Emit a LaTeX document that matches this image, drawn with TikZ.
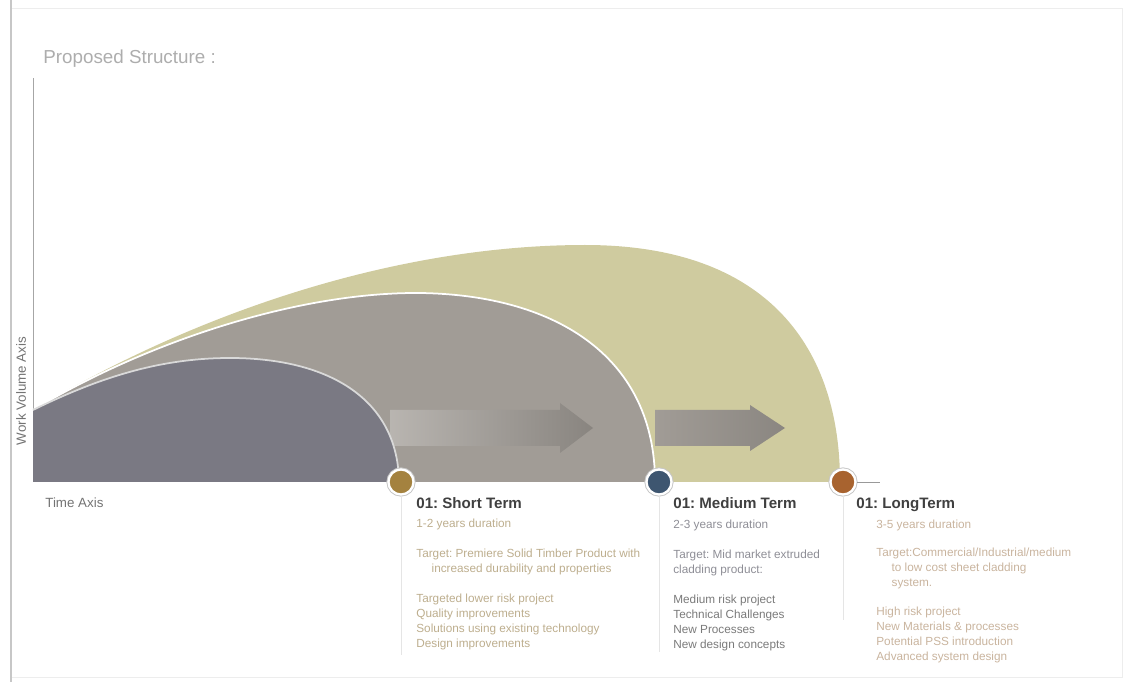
\documentclass[tikz,border=0pt]{standalone}
\usepackage{fontspec}
\setmainfont{Liberation Sans}
\frenchspacing
\definecolor{darkshape}{HTML}{7A7983}
\definecolor{midshape}{HTML}{A19C96}
\definecolor{oliveshape}{HTML}{CFCB9F}
\definecolor{goldspot}{HTML}{A4823F}
\definecolor{bluespot}{HTML}{3E5670}
\definecolor{rustspot}{HTML}{A8632F}
\definecolor{shorttxt}{HTML}{BDAE8E}
\definecolor{midtxt}{HTML}{8E8E96}
\definecolor{longtxt}{HTML}{C9B49E}
\begin{document}
\begin{tikzpicture}[x=0.02cm,y=-0.02cm,
  spot/.style={circle,draw=white,line width=1.3pt,minimum size=0.5cm,inner sep=0pt,
    preaction={draw=black!22,line width=2.4pt}},
  termtitle/.style={anchor=base west,inner sep=0pt,font=\fontsize{8.6}{10}\selectfont\bfseries,text=black!75},
  termtext/.style={anchor=north west,align=left,inner sep=0pt,font=\fontsize{6.7}{8.5}\selectfont},
  axistext/.style={inner sep=0pt,text=black!55,font=\fontsize{7.6}{9}\selectfont},
  guide/.style={draw=black!10,line width=0.4pt}]
\useasboundingbox (0,0) rectangle (1127,682);
\draw[black!7] (11,8) rectangle (1122,677);
\draw[black!22,line width=1.4pt] (11,0) -- (11,682);
\draw[black!35,line width=0.5pt] (33,78) -- (33,420);

\node[anchor=base west,inner sep=0pt,text=black!32,font=\fontsize{10.7}{12}\selectfont] (title) at (43,64) {Proposed Structure :};
\node[axistext,rotate=90] (yaxis) at (21,391) {Work Volume Axis};
\node[axistext,anchor=base west] (xaxis) at (45,507) {Time Axis};

\fill[oliveshape] (33,482) -- (33,410) .. controls (200,310) and (400,245) .. (585,245)
  .. controls (770,245) and (840,350) .. (840,482) -- cycle;
\shade[left color=midshape,right color=black!14!midshape]
  (655,410) -- (750,410) -- (750,405) -- (785,428) -- (750,451) -- (750,446) -- (655,446) -- cycle;
\fill[midshape] (33,482) -- (33,410) .. controls (150,340) and (300,292) .. (420,293)
  .. controls (560,295) and (655,360) .. (655,482) -- cycle;
\draw[white,line width=1pt] (33,410) .. controls (150,340) and (300,292) .. (420,293)
  .. controls (560,295) and (655,360) .. (655,482);
\shade[left color=white!25!midshape,right color=black!15!midshape]
  (390,410) -- (560,410) -- (560,403) -- (593,428) -- (560,453) -- (560,446) -- (390,446) -- cycle;
\fill[darkshape] (33,482) -- (33,410) .. controls (110,372) and (170,358) .. (230,358)
  .. controls (330,358) and (398,400) .. (399,482) -- cycle;
\draw[white!85!black,line width=1pt] (33,410) .. controls (110,372) and (170,358) .. (230,358)
  .. controls (330,358) and (398,400) .. (399,482);

\coordinate (e1) at (407,655);
\coordinate (e2) at (657,652);
\coordinate (e3) at (843,620);
\coordinate (tick) at (880,482);
\node[spot,fill=goldspot] (c1) at (401,482) {};
\node[spot,fill=bluespot] (c2) at (659,482) {};
\node[spot,fill=rustspot] (c3) at (843,482) {};
\draw[guide] (c1.south) -- (c1.south |- e1);
\draw[guide] (c2.south) -- (c2.south |- e2);
\draw[guide] (c3.south) -- (e3);
\draw[black!40,line width=0.5pt] (c3.east) -- (tick);

\node[termtitle] (short) at (416,509) {01: Short Term};
\node[termtext,text=shorttxt] (shortinfo) at (416,519) {1-2 years duration\\[8.5pt]
Target: Premiere Solid Timber Product with\\
\hspace*{1.3em}increased durability and properties\\[8.5pt]
Targeted lower risk project\\
Quality improvements\\
Solutions using existing technology\\
Design improvements};

\node[termtitle] (medium) at (673,509) {01: Medium Term};
\node[termtext,text=midtxt] (mediuminfo) at (673,520) {2-3 years duration\\[8.5pt]
Target: Mid market extruded\\
cladding product:\\[8.5pt]
\textcolor{black!52}{Medium risk project}\\
\textcolor{black!52}{Technical Challenges}\\
\textcolor{black!52}{New Processes}\\
\textcolor{black!52}{New design concepts}};

\node[termtitle] (long) at (856,509) {01: LongTerm};
\node[termtext,text=longtxt] (longinfo) at (876,520) {3-5 years duration\\[7.5pt]
Target:Commercial/Industrial/medium\\
\hspace*{1.3em}to low cost sheet cladding\\
\hspace*{1.3em}system.\\[8pt]
High risk project\\
New Materials \& processes\\
Potential PSS introduction\\
Advanced system design};
\end{tikzpicture}
\end{document}
